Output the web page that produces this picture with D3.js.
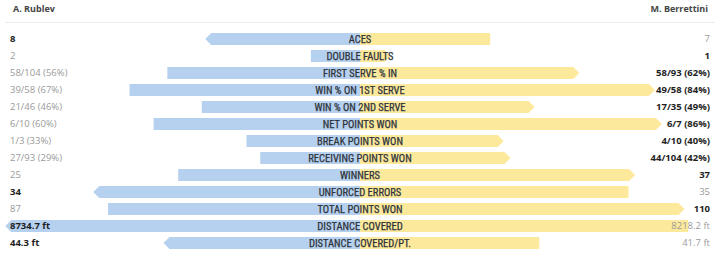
<!DOCTYPE html>
<html>
<head>
<meta charset="utf-8">
<script src="https://cdn.jsdelivr.net/npm/d3@7/dist/d3.min.js"></script>
<style>
  html, body { margin: 0; padding: 0; background: #ffffff; }
  svg { display: block; }
</style>
</head>
<body>
<svg id="chart" width="720" height="256"></svg>
<script>
const players = ["A. Rublev", "M. Berrettini"];
const categories = ["ACES", "DOUBLE FAULTS", "FIRST SERVE % IN", "WIN % ON 1ST SERVE", "WIN % ON 2ND SERVE", "NET POINTS WON", "BREAK POINTS WON", "RECEIVING POINTS WON", "WINNERS", "UNFORCED ERRORS", "TOTAL POINTS WON", "DISTANCE COVERED", "DISTANCE COVERED/PT."];
const leftText = ["8", "2", "58/104 (56%)", "39/58 (67%)", "21/46 (46%)", "6/10 (60%)", "1/3 (33%)", "27/93 (29%)", "25", "34", "87", "8734.7 ft", "44.3 ft"];
const rightText = ["7", "1", "58/93 (62%)", "49/58 (84%)", "17/35 (49%)", "6/7 (86%)", "4/10 (40%)", "44/104 (42%)", "37", "35", "110", "8218.2 ft", "41.7 ft"];
const leftValues = [8, 2, 56, 67, 46, 60, 33, 29, 25, 34, 87, 8734.7, 44.3];
const rightValues = [7, 1, 62, 84, 49, 86, 40, 42, 37, 35, 110, 8218.2, 41.7];
const scaleMax = [18.5, 14, 100, 100, 100, 100, 100, 100, 47.3, 44.85, 118.8, 8615, 80];
const winner = ["L", "R", "R", "R", "R", "R", "R", "R", "R", "L", "R", "L", "L"];

const W = 720, H = 256;
const cx = 360, half = 344, tip = 6;
const svg = d3.select("#chart");

const y = d3.scaleBand().domain(categories).range([30.5, 251.5]).paddingInner(0.3).paddingOuter(0.15);
const bh = y.bandwidth();

// header
svg.append("line").attr("x1", 5).attr("x2", 715).attr("y1", 22.5).attr("y2", 22.5)
  .attr("stroke", "#ececec").attr("stroke-width", 1);
svg.append("text").attr("x", 13).attr("y", 12).text(players[0])
  .attr("font-family", "'Open Sans', sans-serif").attr("font-weight", 700).attr("font-size", 9)
  .attr("fill", "#444");
svg.append("text").attr("x", 708).attr("y", 12).attr("text-anchor", "end").text(players[1])
  .attr("font-family", "'Open Sans', sans-serif").attr("font-weight", 700).attr("font-size", 9)
  .attr("fill", "#444");

const rows = categories.map((c, i) => ({ c, i }));

function barPath(side, len, isWin, top) {
  const b = top + bh, m = top + bh / 2;
  if (side === "L") {
    const x0 = cx - len;
    return isWin
      ? `M${cx},${top}L${x0},${top}L${x0 - tip},${m}L${x0},${b}L${cx},${b}Z`
      : `M${cx},${top}L${x0},${top}L${x0},${b}L${cx},${b}Z`;
  } else {
    const x1 = cx + len;
    return isWin
      ? `M${cx},${top}L${x1},${top}L${x1 + tip},${m}L${x1},${b}L${cx},${b}Z`
      : `M${cx},${top}L${x1},${top}L${x1},${b}L${cx},${b}Z`;
  }
}

const g = svg.append("g");
rows.forEach(({ c, i }) => {
  const s = d3.scaleLinear().domain([0, scaleMax[i]]).range([0, half]);
  const top = y(c);
  g.append("path").attr("d", barPath("L", s(leftValues[i]), winner[i] === "L", top)).attr("fill", "#b6d1ef");
  g.append("path").attr("d", barPath("R", s(rightValues[i]), winner[i] === "R", top)).attr("fill", "#fde99b");
});

// labels
svg.append("g").selectAll("text").data(rows).join("text")
  .attr("x", cx).attr("y", d => y(d.c) + bh / 2).attr("dy", "0.36em")
  .attr("text-anchor", "middle")
  .attr("font-family", "'Liberation Sans Narrow', 'Roboto Condensed', Roboto, sans-serif")
  .attr("font-weight", 400).attr("font-size", 10.5).attr("fill", "#2e333b")
  .attr("stroke", "#2e333b").attr("stroke-width", 0.25)
  .text(d => d.c);

// values
svg.append("g").selectAll("text").data(rows).join("text")
  .attr("x", 10).attr("y", d => y(d.c) + bh / 2).attr("dy", "0.36em")
  .attr("font-family", "'Open Sans', sans-serif").attr("font-size", 9.5)
  .attr("font-weight", d => winner[d.i] === "L" ? 700 : 400)
  .attr("fill", d => winner[d.i] === "L" ? "#1e1e1e" : "#9a9a9a")
  .text(d => leftText[d.i]);
svg.append("g").selectAll("text").data(rows).join("text")
  .attr("x", 710).attr("y", d => y(d.c) + bh / 2).attr("dy", "0.36em")
  .attr("text-anchor", "end")
  .attr("font-family", "'Open Sans', sans-serif").attr("font-size", 9.5)
  .attr("font-weight", d => winner[d.i] === "R" ? 700 : 400)
  .attr("fill", d => winner[d.i] === "R" ? "#1e1e1e" : "#9a9a9a")
  .text(d => rightText[d.i]);
</script>
</body>
</html>
